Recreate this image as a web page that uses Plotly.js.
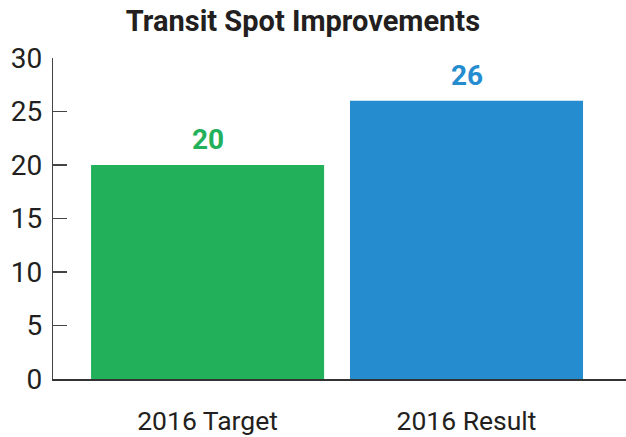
<!DOCTYPE html>
<html>
<head>
<meta charset="utf-8">
<script src="https://cdn.plot.ly/plotly-3.0.1.min.js"></script>
<style>html,body{margin:0;padding:0;background:#fff;}#chart{width:626px;height:437px;}</style>
</head>
<body>
<div id="chart"></div>
<script>
const categories = ["2016 Target", "2016 Result"];
const values = [20, 26];
const barColors = ["#23b05a", "#258dcf"];
const yTicks = [0, 5, 10, 15, 20, 25, 30];
const titleText = "Transit Spot Improvements";

const FONT = "Roboto, 'DejaVu Sans', sans-serif";
const TEXT = "#231f20";

const trace = {
  type: "bar",
  x: categories,
  y: values,
  marker: { color: barColors },
  width: 0.9,
  hoverinfo: "none"
};

const annotations = categories.map((c, i) => ({
  x: c, y: values[i], xref: "x", yref: "y",
  text: "<b>" + values[i] + "</b>",
  showarrow: false, yanchor: "bottom", yshift: 7,
  font: { family: FONT, size: 28, color: barColors[i] }
}));

const layout = {
  width: 626, height: 437,
  margin: { l: 53, r: 0, t: 58, b: 58 },
  paper_bgcolor: "#fff", plot_bgcolor: "#fff",
  showlegend: false,
  title: {
    text: "<b>" + titleText + "</b>",
    font: { family: FONT, size: 29, color: TEXT },
    x: 0.484, xanchor: "center", xref: "container",
    y: 0.952, yanchor: "middle", yref: "container"
  },
  xaxis: {
    type: "category",
    range: [-0.597, 1.616],
    showgrid: false, zeroline: false,
    showline: true, linecolor: "#333", linewidth: 1.5,
    ticks: "", ticklabelstandoff: 18,
    tickfont: { family: FONT, size: 26.5, color: TEXT },
    fixedrange: true
  },
  yaxis: {
    range: [0, 30],
    tickvals: yTicks,
    ticktext: yTicks.map(String),
    showgrid: false, zeroline: false,
    showline: true, linecolor: "#444", linewidth: 1.2,
    ticks: "inside", ticklen: 14, tickwidth: 1.2, tickcolor: "#444",
    ticklabelstandoff: 4,
    tickfont: { family: FONT, size: 28, color: TEXT },
    fixedrange: true
  },
  annotations: annotations
};

Plotly.newPlot("chart", [trace], layout, { displayModeBar: false, staticPlot: true });
</script>
</body>
</html>
